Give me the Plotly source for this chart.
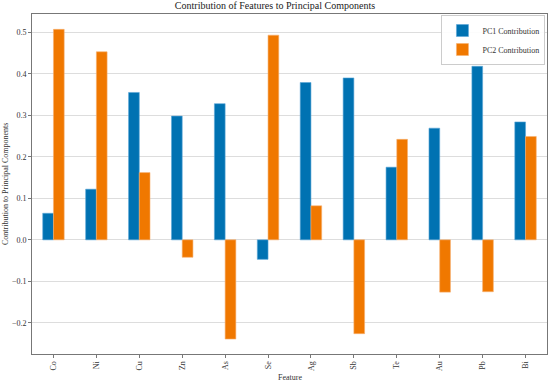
import plotly.graph_objects as go

features = ["Co", "Ni", "Cu", "Zn", "As", "Se", "Ag", "Sb", "Te", "Au", "Pb", "Bi"]
pc1 = [0.064, 0.122, 0.355, 0.298, 0.328, -0.047, 0.379, 0.390, 0.175, 0.269, 0.418, 0.284]
pc2 = [0.507, 0.453, 0.162, -0.042, -0.239, 0.493, 0.082, -0.226, 0.242, -0.126, -0.125, 0.249]
y_ticks = [-0.2, -0.1, 0.0, 0.1, 0.2, 0.3, 0.4, 0.5]

FONT = "Liberation Serif"
BLUE = "#0072B2"
ORANGE = "#F07800"

fig = go.Figure()
fig.add_trace(go.Bar(x=features, y=pc1, name="PC1 Contribution",
                     marker=dict(color=BLUE, line=dict(width=0.6, color="#5aa6d6"))))
fig.add_trace(go.Bar(x=features, y=pc2, name="PC2 Contribution",
                     marker=dict(color=ORANGE, line=dict(width=0.6, color="#f7b070"))))

fig.update_layout(
    width=550, height=382,
    margin=dict(l=32, r=3, t=14, b=28, autoexpand=False),
    paper_bgcolor="white", plot_bgcolor="white",
    font=dict(family=FONT, size=8, color="#333333"),
    barmode="group", bargap=0.5, bargroupgap=0,
    title=dict(text="Contribution of Features to Principal Components",
               x=0.5, xanchor="center", y=0.995, yanchor="top",
               font=dict(family=FONT, size=10, color="#222222")),
    legend=dict(x=0.997, y=0.997, xanchor="right", yanchor="top",
                bgcolor="rgba(255,255,255,0.9)", bordercolor="#cccccc", borderwidth=1,
                font=dict(family=FONT, size=8, color="#333333"),
                itemwidth=30, tracegroupgap=0),
    showlegend=True,
    annotations=[
        dict(text="Feature", xref="paper", yref="paper", x=0.5, y=-0.0, yshift=-23,
             xanchor="center", yanchor="middle", showarrow=False,
             font=dict(family=FONT, size=8, color="#333333")),
        dict(text="Contribution to Principal Components", xref="paper", yref="paper",
             x=0, xshift=-27, y=0.5, xanchor="center", yanchor="middle", textangle=-90,
             showarrow=False, font=dict(family=FONT, size=8, color="#333333")),
    ],
)
fig.update_xaxes(
    type="category", range=[-0.5, 11.5], automargin=False,
    showline=True, linecolor="#777777", linewidth=1, mirror=True,
    ticks="outside", ticklen=3, tickcolor="#777777",
    tickangle=-90, showgrid=False,
)
fig.update_yaxes(
    range=[-0.275, 0.544], tickvals=y_ticks, tickformat=".1f", automargin=False,
    showline=True, linecolor="#777777", linewidth=1, mirror=True,
    ticks="outside", ticklen=3, tickcolor="#777777",
    showgrid=True, gridcolor="#dddddd", gridwidth=1, zeroline=False,
)

fig.write_html("out.html", config={"displayModeBar": False},
               post_script="document.body.style.margin='0';")
